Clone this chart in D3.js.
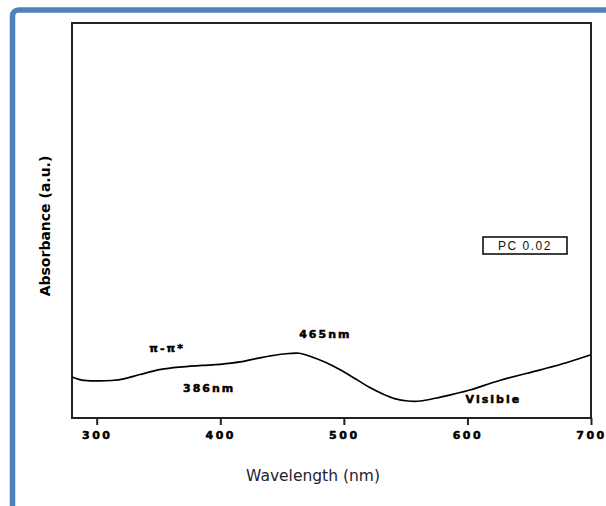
<!DOCTYPE html>
<html>
<head>
<meta charset="utf-8">
<script src="https://cdn.jsdelivr.net/npm/d3@7"></script>
<style>
  html, body { margin: 0; padding: 0; background: #fff; }
  svg { display: block; }
</style>
</head>
<body>
<svg id="chart" width="606" height="506"></svg>
<script>
// UV-Vis absorption spectrum of PC 0.02
const wavelength = [280, 288, 300, 312, 322, 335, 352, 367, 385, 400, 416, 430, 440, 451, 464, 472, 485, 497, 510, 521, 532, 541, 552, 562, 574, 588, 602, 626, 659, 680, 700];
const absorbance = [0.104, 0.096, 0.094, 0.095, 0.099, 0.110, 0.123, 0.129, 0.133, 0.136, 0.142, 0.151, 0.157, 0.162, 0.164, 0.157, 0.141, 0.122, 0.098, 0.077, 0.060, 0.049, 0.043, 0.043, 0.050, 0.060, 0.071, 0.095, 0.122, 0.140, 0.160];
const xTicks = [300, 400, 500, 600, 700];

// Band annotations: text, wavelength, absorbance position
const bandLabels = ["π-π*", "386nm", "465nm", "Visible"];
const bandX = [357, 391, 485, 621];
const bandY = [0.167, 0.066, 0.203, 0.038];

const legendText = "PC 0.02";

const svg = d3.select("#chart");
const plotLeft = 72, plotRight = 591, plotTop = 23, plotBottom = 418;

const x = d3.scaleLinear().domain([280, 700]).range([plotLeft, plotRight]);
const y = d3.scaleLinear().domain([0, 1]).range([plotBottom, plotTop]);

// Outer rounded blue frame
svg.append("rect")
  .attr("x", 12.5).attr("y", 10)
  .attr("width", 640).attr("height", 560)
  .attr("rx", 6)
  .attr("fill", "#ffffff")
  .attr("stroke", "#4f81bd")
  .attr("stroke-width", 5.5);

// Plot frame
svg.append("rect")
  .attr("x", plotLeft).attr("y", plotTop)
  .attr("width", plotRight - plotLeft).attr("height", plotBottom - plotTop)
  .attr("fill", "none")
  .attr("stroke", "#222")
  .attr("stroke-width", 2);

// Bottom axis with outward ticks
const xAxis = d3.axisBottom(x).tickValues(xTicks).tickSize(7).tickPadding(6).tickFormat(d3.format("d"));
const gx = svg.append("g").attr("transform", `translate(0,${plotBottom})`).call(xAxis);
gx.select(".domain").remove();
gx.selectAll(".tick line").attr("stroke", "#222").attr("stroke-width", 2);
gx.selectAll(".tick text")
  .attr("fill", "#000")
  .attr("stroke", "#000")
  .attr("stroke-width", 0.5)
  .style("font-family", "DejaVu Sans, Verdana, sans-serif")
  .style("font-weight", "bold")
  .style("font-size", "11px")
  .style("letter-spacing", "2.5px");

// Spectrum line
const line = d3.line()
  .x((d, i) => x(wavelength[i]))
  .y(d => y(d))
  .curve(d3.curveCatmullRom.alpha(0.5));

svg.append("path")
  .datum(absorbance)
  .attr("d", line)
  .attr("fill", "none")
  .attr("stroke", "#000")
  .attr("stroke-width", 1.7);

// Band annotations
svg.append("g").selectAll("text")
  .data(bandLabels)
  .join("text")
  .attr("x", (d, i) => x(bandX[i]))
  .attr("y", (d, i) => y(bandY[i]))
  .attr("text-anchor", "middle")
  .style("font-family", "DejaVu Sans, Verdana, sans-serif")
  .style("font-weight", "bold")
  .style("font-size", "11px")
  .style("letter-spacing", "2px")
  .attr("fill", "#000")
  .attr("stroke", "#000")
  .attr("stroke-width", 0.5)
  .text(d => d);

// Sample legend box
const lg = svg.append("g");
lg.append("rect")
  .attr("x", 483).attr("y", 237)
  .attr("width", 84).attr("height", 17)
  .attr("fill", "#fff")
  .attr("stroke", "#000")
  .attr("stroke-width", 1.5);
lg.append("text")
  .attr("x", 525).attr("y", 250)
  .attr("text-anchor", "middle")
  .style("font-family", "Liberation Sans, Arial, sans-serif")
  .style("font-size", "12px")
  .style("letter-spacing", "1.5px")
  .attr("fill", "#111")
  .text(legendText);

// Axis titles
svg.append("text")
  .attr("x", 313).attr("y", 481)
  .attr("text-anchor", "middle")
  .style("font-family", "DejaVu Sans, Verdana, sans-serif")
  .style("font-size", "15.5px")
  .attr("fill", "#222230")
  .text("Wavelength (nm)");

svg.append("text")
  .attr("transform", "translate(50,226) rotate(-90)")
  .attr("text-anchor", "middle")
  .style("font-family", "DejaVu Sans, Verdana, sans-serif")
  .style("font-weight", "bold")
  .style("font-size", "14px")
  .attr("fill", "#000")
  .text("Absorbance (a.u.)");
</script>
</body>
</html>
